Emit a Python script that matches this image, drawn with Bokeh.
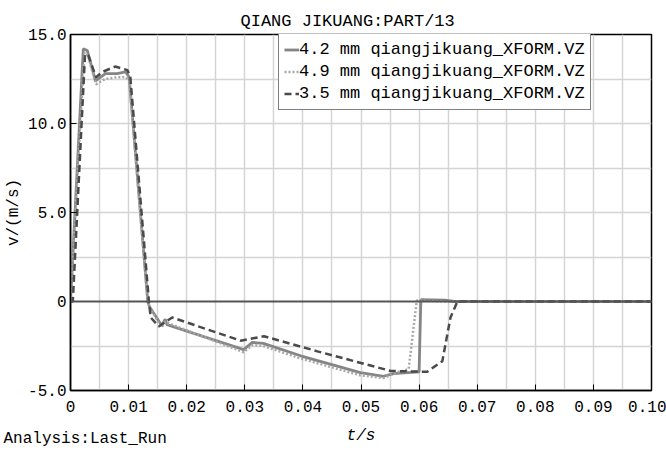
from bokeh.plotting import figure
from bokeh.models import Legend, LegendItem, Span, FixedTicker, Title
from bokeh.embed import file_html
from bokeh.resources import INLINE

# ---- data ----
title_text = "QIANG JIKUANG:PART/13"
footer_text = "Analysis:Last_Run"
series_names = ["4.2 mm qiangjikuang_XFORM.VZ",
                "4.9 mm qiangjikuang_XFORM.VZ",
                "3.5 mm qiangjikuang_XFORM.VZ"]

t_42 = [0, 0.0022, 0.0029, 0.0043, 0.006, 0.008, 0.0095, 0.0101, 0.0133, 0.0136, 0.0157,
        0.0163, 0.0166, 0.0298, 0.0313, 0.0332, 0.0396, 0.0499, 0.0539, 0.0556, 0.0600,
        0.0603, 0.0645, 0.0660, 0.1]
v_42 = [0, 14.2, 14.1, 12.4, 12.8, 12.8, 12.9, 12.6, 0, -0.3, -1.35,
        -1.0, -1.3, -2.7, -2.3, -2.35, -3.05, -4.0, -4.2, -4.05, -3.95,
        0.1, 0.08, 0, 0]

t_49 = [0, 0.0024, 0.0030, 0.0044, 0.006, 0.008, 0.0095, 0.0101, 0.0133, 0.0137, 0.0157,
        0.0163, 0.0298, 0.0313, 0.0332, 0.0396, 0.0499, 0.0539, 0.0560, 0.0582, 0.0596,
        0.0650, 0.1]
v_49 = [0, 14.0, 13.8, 12.2, 12.5, 12.6, 12.6, 12.4, 0, -0.4, -1.45,
        -1.15, -2.85, -2.45, -2.5, -3.2, -4.15, -4.3, -4.0, -3.8, 0.05,
        0, 0]

t_35 = [0, 0.0004, 0.0025, 0.0031, 0.0044, 0.0055, 0.0077, 0.0098, 0.0103, 0.0135, 0.0138,
        0.0152, 0.0175, 0.0293, 0.0333, 0.0425, 0.0551, 0.0614, 0.0640, 0.0654, 0.0666, 0.1]
v_35 = [0, 0, 13.9, 13.8, 12.6, 12.9, 13.2, 13.0, 12.6, 0, -0.9,
        -1.4, -0.9, -2.2, -1.95, -2.8, -3.9, -3.95, -3.35, -0.9, 0, 0]

x_ticks = [0, 0.01, 0.02, 0.03, 0.04, 0.05, 0.06, 0.07, 0.08, 0.09, 0.1]
x_tick_labels = ["0", "0.01", "0.02", "0.03", "0.04", "0.05", "0.06", "0.07", "0.08", "0.09", "0.10"]
y_ticks = [-5, 0, 5, 10, 15]
y_tick_labels = ["-5.0", "0", "5.0", "10.0", "15.0"]
x_grid = [0.005, 0.01, 0.015, 0.02, 0.025, 0.03, 0.035, 0.04, 0.045, 0.05,
          0.055, 0.06, 0.065, 0.07, 0.075, 0.08, 0.085, 0.09, 0.095]
y_grid = [-2.5, 2.5, 5, 7.5, 10, 12.5]

FONT = "Liberation Mono"

p = figure(width=666, height=450, x_range=(0, 0.1), y_range=(-5, 15),
           output_backend="svg", toolbar_location=None,
           min_border_left=70, min_border_right=15, min_border_top=34, min_border_bottom=60)
p.background_fill_color = "white"
p.border_fill_color = "white"
p.outline_line_color = "black"
p.outline_line_width = 1.5

p.title.text = title_text
p.title.text_font = FONT
p.title.text_font_size = "17px"
p.title.text_font_style = "normal"
p.title.text_color = "black"
p.title.align = "left"
p.title.offset = 170
p.title.standoff = 8

p.xaxis.ticker = FixedTicker(ticks=x_ticks)
p.xaxis.major_label_overrides = {k: v for k, v in zip(x_ticks, x_tick_labels)}
p.yaxis.ticker = FixedTicker(ticks=y_ticks)
p.yaxis.major_label_overrides = {k: v for k, v in zip(y_ticks, y_tick_labels)}
for ax in (p.xaxis[0], p.yaxis[0]):
    ax.major_label_text_font = FONT
    ax.major_label_text_font_size = "16px"
    ax.major_label_text_color = "black"
    ax.major_tick_in = 6
    ax.major_tick_out = 0
    ax.minor_tick_line_color = None
    ax.axis_line_color = "black"
    ax.axis_line_width = 1.5
    ax.major_tick_line_color = "black"
    ax.axis_label_text_font = FONT
    ax.axis_label_text_font_size = "16px"
    ax.axis_label_text_color = "black"
p.xaxis.major_label_standoff = 10
p.yaxis.major_label_standoff = 4
p.xaxis.axis_label = "t/s"
p.xaxis.axis_label_text_font_style = "italic"
p.xaxis.axis_label_standoff = 12
p.yaxis.axis_label = "v/(m/s)"
p.yaxis.axis_label_text_font_style = "normal"
p.yaxis.axis_label_standoff = 2

p.xgrid.ticker = FixedTicker(ticks=x_grid)
p.ygrid.ticker = FixedTicker(ticks=y_grid)
p.grid.grid_line_color = "#d4d4d4"
p.grid.grid_line_width = 1.5

p.add_layout(Span(location=0, dimension="width", line_color="#555555", line_width=2))

r1 = p.line(t_42, v_42, line_color="#858585", line_width=2.8)
r2 = p.line(t_49, v_49, line_color="#a8a8a8", line_width=2.5, line_dash="2 2")
r3 = p.line(t_35, v_35, line_color="#4a4a4a", line_width=2.5, line_dash="7 4")

legend = Legend(items=[LegendItem(label=series_names[0], renderers=[r1]),
                       LegendItem(label=series_names[1], renderers=[r2]),
                       LegendItem(label=series_names[2], renderers=[r3])],
                location=(208, 280))
legend.label_text_font = FONT
legend.label_text_font_size = "17px"
legend.label_text_color = "black"
legend.glyph_width = 15
legend.glyph_height = 21
legend.label_height = 21
legend.label_standoff = 0
legend.spacing = 1
legend.padding = 5
legend.margin = 0
legend.border_line_color = "black"
legend.border_line_width = 1.5
legend.background_fill_alpha = 1
p.add_layout(legend, "center")

footer = Title(text=footer_text, align="left", offset=-67, standoff=-36,
               vertical_align="top",
               text_font=FONT, text_font_size="16px", text_font_style="normal",
               text_color="black")
p.add_layout(footer, "below")

open("out.html", "w").write(file_html(p, INLINE))
